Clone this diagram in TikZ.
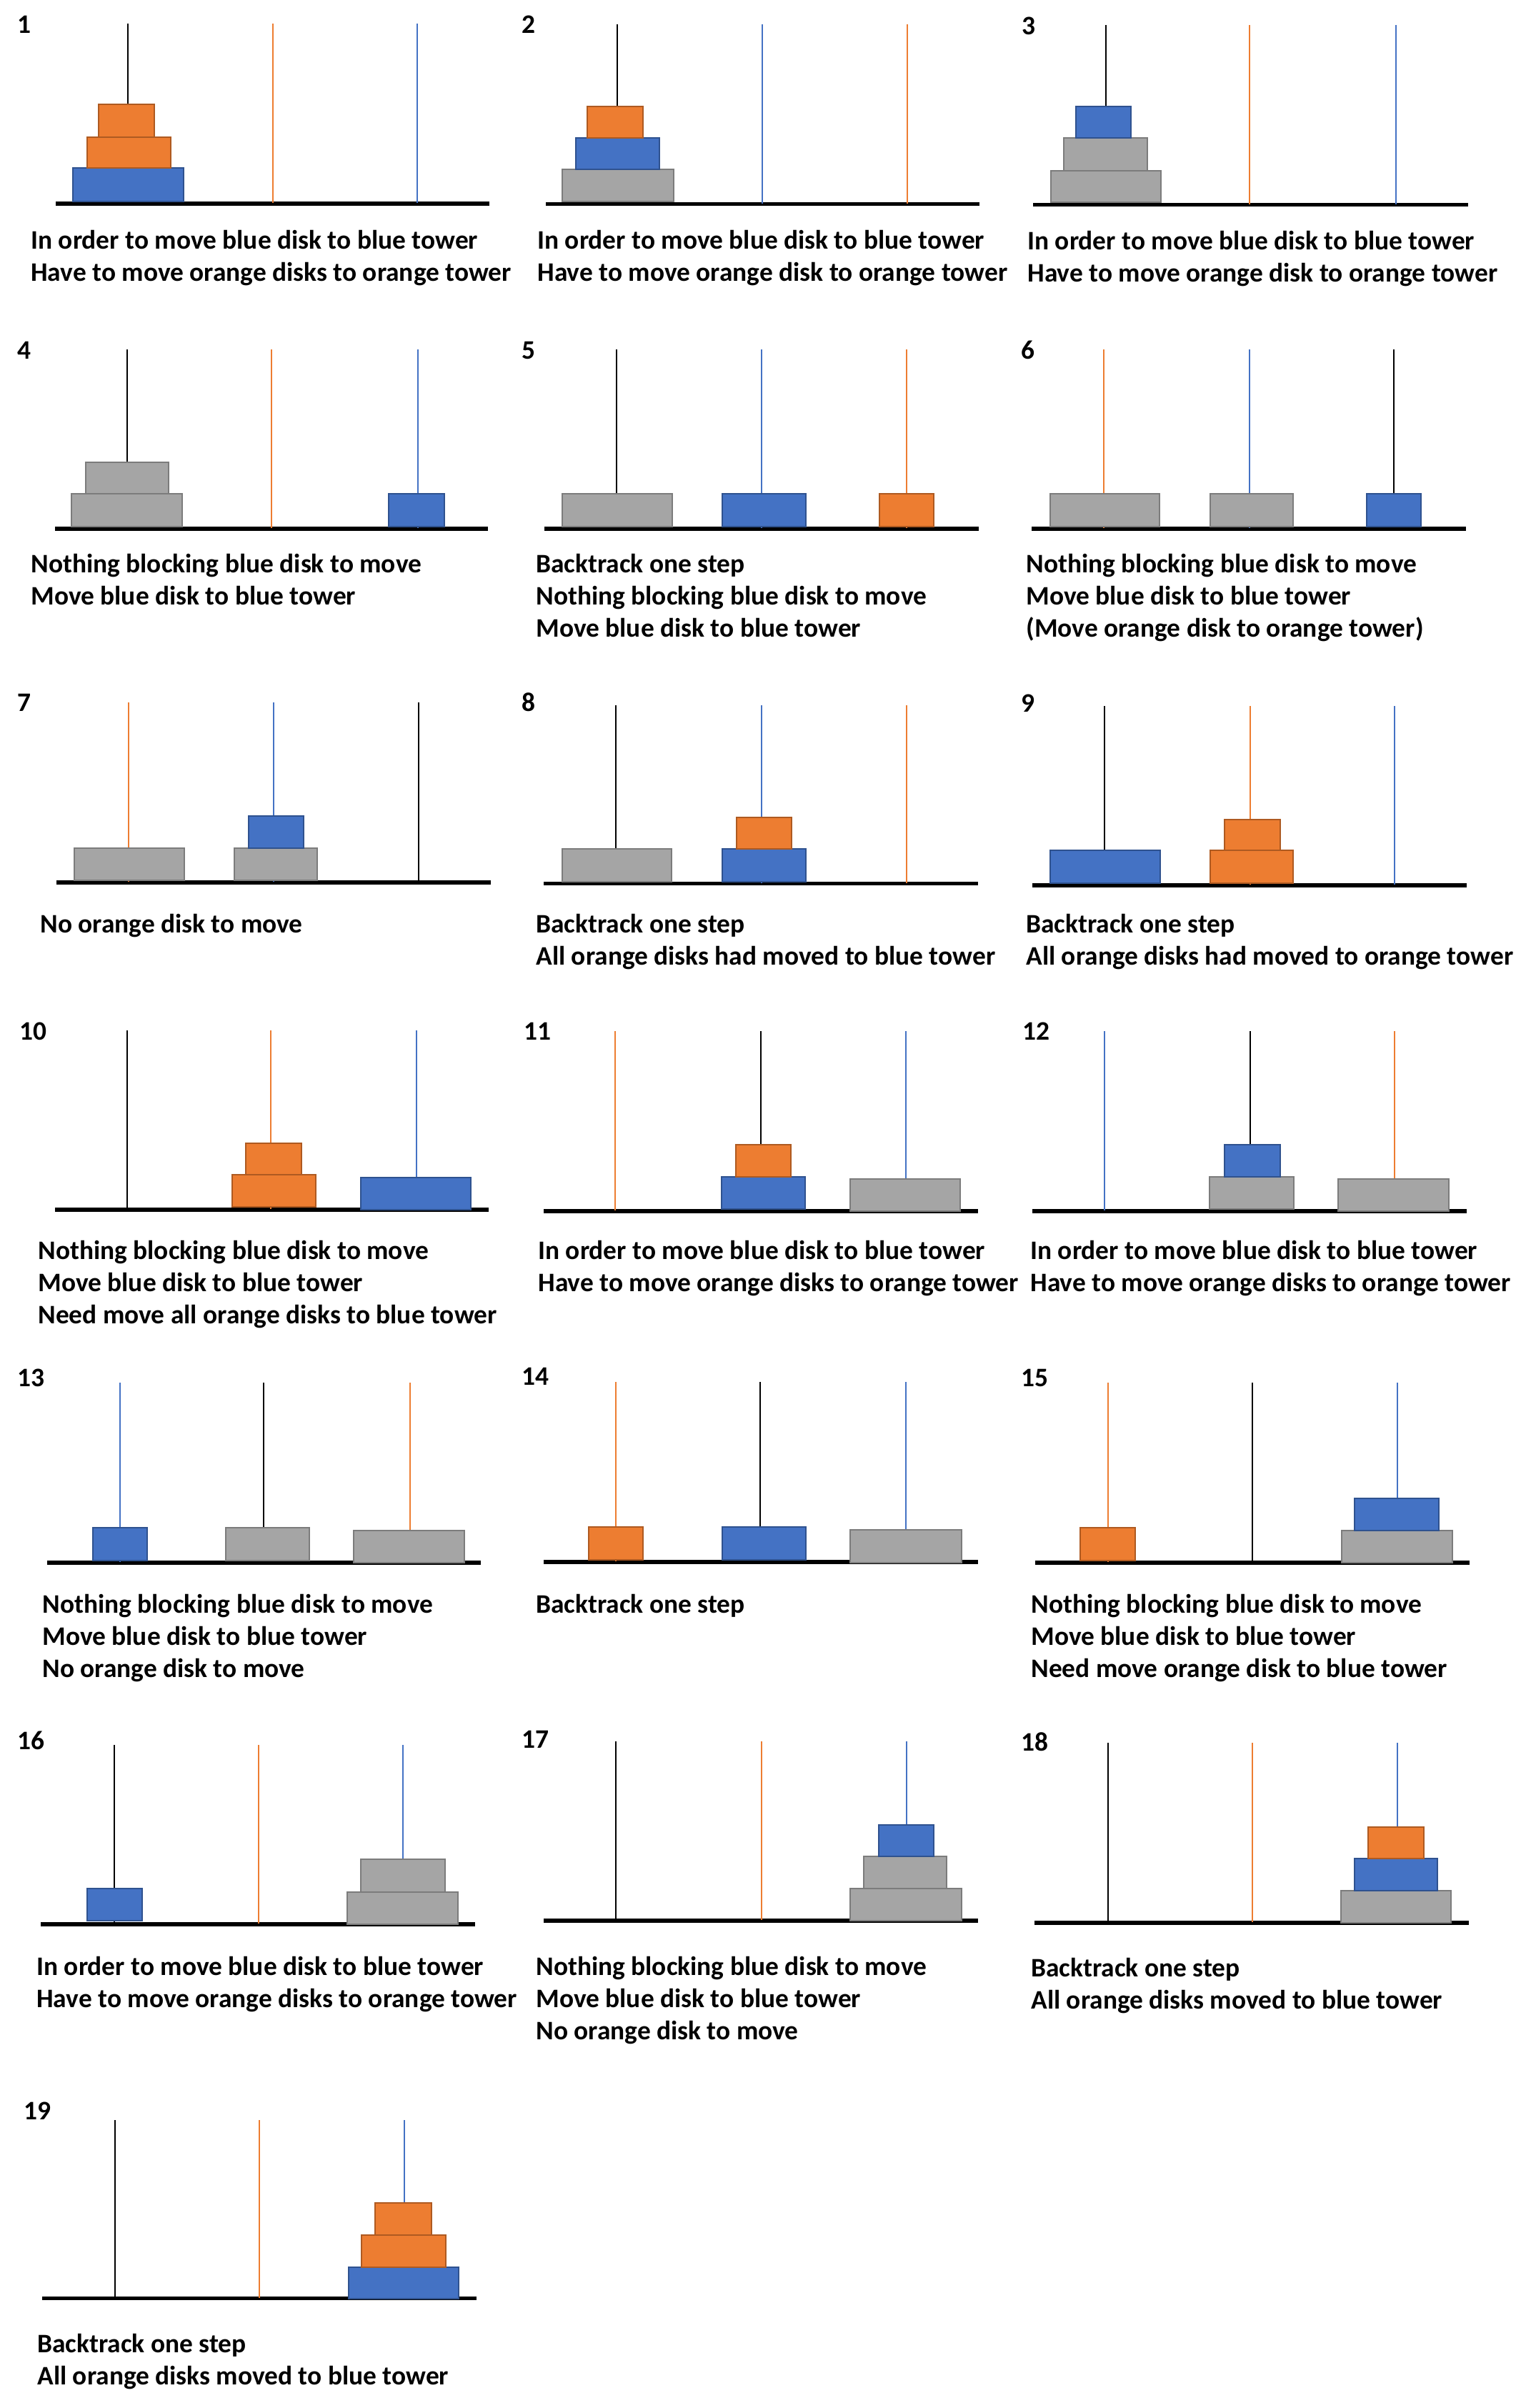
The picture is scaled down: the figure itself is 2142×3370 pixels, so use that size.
\documentclass[tikz,border=0pt]{standalone}
\usepackage{fontspec}
\newfontfamily\calibri{Carlito}
\definecolor{bluef}{HTML}{4472C4}
\definecolor{blued}{HTML}{2F528F}
\definecolor{orangef}{HTML}{ED7D31}
\definecolor{oranged}{HTML}{AE5A21}
\definecolor{grayf}{HTML}{A5A5A5}
\definecolor{grayd}{HTML}{7C7C7C}
\newcommand\Peg[4]{\draw[#1] (#2,#3) -- (#2,#4);}
\newcommand\Cap[4]{\node[captxt] (#1) at (#2,#3) {\begin{tabular}[t]{@{}l@{}}#4\end{tabular}};}
\tikzset{
  pegk/.style={draw=black, line width=1.2pt},
  pego/.style={draw=orangef, line width=1.1pt},
  pegb/.style={draw=bluef, line width=1.1pt},
  baseline bar/.style={fill=black},
  bdisk/.style={fill=bluef, draw=blued, line width=1pt},
  odisk/.style={fill=orangef, draw=oranged, line width=1pt},
  gdisk/.style={fill=grayf, draw=grayd, line width=1pt},
  lab/.style={anchor=base west, inner sep=0pt, font=\calibri\bfseries\fontsize{18.7}{22.5}\selectfont},
  captxt/.style={anchor=base west, inner sep=0pt, font=\calibri\bfseries\fontsize{18.7}{22.5}\selectfont}
}
\begin{document}
\begin{tikzpicture}[x=0.5pt,y=-0.5pt]
\fill[white] (0,0) rectangle (2142,3370);
\useasboundingbox (0,0) rectangle (2142,3370);
% ---------- Panel 1
\fill[baseline bar] (78,282) rectangle (685,288);
\Peg{pegk}{179}{33}{284}\Peg{pego}{382}{33}{284}\Peg{pegb}{584}{33}{284}
\draw[bdisk] (102,235) rectangle (257,282);
\draw[odisk] (122,192) rectangle (239,235);
\draw[odisk] (138,146) rectangle (216,192);
\node[lab] (l1) at (24,47) {1};
\Cap{c1}{43}{349}{In order to move blue disk to blue tower\\Have to move orange disks to orange tower}
% ---------- Panel 2
\fill[baseline bar] (764,283) rectangle (1371,288);
\Peg{pegk}{864}{34}{285}\Peg{pegb}{1067}{34}{285}\Peg{pego}{1270}{34}{285}
\draw[gdisk] (787,237) rectangle (943,282);
\draw[bdisk] (806,193) rectangle (923,237);
\draw[odisk] (822,149) rectangle (900,193);
\node[lab] (l2) at (730,47) {2};
\Cap{c2}{752}{349}{In order to move blue disk to blue tower\\Have to move orange disk to orange tower}
% ---------- Panel 3
\fill[baseline bar] (1446,284) rectangle (2055,289);
\Peg{pegk}{1548}{35}{286}\Peg{pego}{1749}{35}{286}\Peg{pegb}{1954}{35}{286}
\draw[gdisk] (1471,239) rectangle (1625,283);
\draw[gdisk] (1489,193) rectangle (1606,239);
\draw[bdisk] (1506,149) rectangle (1583,193);
\node[lab] (l3) at (1430,49) {3};
\Cap{c3}{1438}{350}{In order to move blue disk to blue tower\\Have to move orange disk to orange tower}
% ---------- Panel 4
\fill[baseline bar] (77,737) rectangle (683,743);
\Peg{pegk}{178}{489}{739}\Peg{pego}{380}{489}{739}\Peg{pegb}{585}{489}{739}
\draw[gdisk] (100,691) rectangle (255,737);
\draw[gdisk] (120,647) rectangle (236,691);
\draw[bdisk] (544,691) rectangle (622,737);
\node[lab] (l4) at (24,503) {4};
\Cap{c4}{43}{801}{Nothing blocking blue disk to move\\Move blue disk to blue tower}
% ---------- Panel 5
\fill[baseline bar] (762,737) rectangle (1370,743);
\Peg{pegk}{863}{489}{739}\Peg{pegb}{1066}{489}{739}\Peg{pego}{1269}{489}{739}
\draw[gdisk] (787,691) rectangle (941,737);
\draw[bdisk] (1011,691) rectangle (1128,737);
\draw[odisk] (1231,691) rectangle (1307,737);
\node[lab] (l5) at (730,503) {5};
\Cap{c5}{750}{801}{Backtrack one step\\Nothing blocking blue disk to move\\Move blue disk to blue tower}
% ---------- Panel 6
\fill[baseline bar] (1444,737) rectangle (2052,743);
\Peg{pego}{1545}{489}{739}\Peg{pegb}{1749}{489}{739}\Peg{pegk}{1951}{489}{739}
\draw[gdisk] (1470,691) rectangle (1623,737);
\draw[gdisk] (1694,691) rectangle (1810,737);
\draw[bdisk] (1913,691) rectangle (1989,737);
\node[lab] (l6) at (1429,503) {6};
\Cap{c6}{1436}{801}{Nothing blocking blue disk to move\\Move blue disk to blue tower\\(Move orange disk to orange tower)}
% ---------- Panel 7
\fill[baseline bar] (79,1232) rectangle (687,1238);
\Peg{pego}{180}{983}{1234}\Peg{pegb}{383}{983}{1234}\Peg{pegk}{586}{983}{1234}
\draw[gdisk] (104,1187) rectangle (258,1232);
\draw[gdisk] (328,1187) rectangle (444,1232);
\draw[bdisk] (348,1142) rectangle (425,1187);
\node[lab] (l7) at (24,995) {7};
\Cap{c7}{56}{1305}{No orange disk to move}
% ---------- Panel 8
\fill[baseline bar] (761,1234) rectangle (1369,1239);
\Peg{pegk}{862}{987}{1236}\Peg{pegb}{1066}{987}{1236}\Peg{pego}{1269}{987}{1236}
\draw[gdisk] (787,1188) rectangle (940,1234);
\draw[bdisk] (1011,1188) rectangle (1128,1234);
\draw[odisk] (1031,1144) rectangle (1108,1188);
\node[lab] (l8) at (730,995) {8};
\Cap{c8}{750}{1305}{Backtrack one step\\All orange disks had moved to blue tower}
% ---------- Panel 9
\fill[baseline bar] (1445,1236) rectangle (2053,1242);
\Peg{pegk}{1546}{988}{1238}\Peg{pego}{1750}{988}{1238}\Peg{pegb}{1952}{988}{1238}
\draw[bdisk] (1470,1190) rectangle (1624,1236);
\draw[odisk] (1694,1190) rectangle (1810,1236);
\draw[odisk] (1714,1147) rectangle (1792,1190);
\node[lab] (l9) at (1429,996) {9};
\Cap{c9}{1436}{1305}{Backtrack one step\\All orange disks had moved to orange tower}
% ---------- Panel 10
\fill[baseline bar] (77,1690) rectangle (684,1696);
\Peg{pegk}{178}{1442}{1692}\Peg{pego}{379}{1442}{1692}\Peg{pegb}{583}{1442}{1692}
\draw[odisk] (325,1644) rectangle (442,1689);
\draw[odisk] (344,1600) rectangle (422,1644);
\draw[bdisk] (505,1648) rectangle (659,1693);
\node[lab] (l10) at (27,1455) {10};
\Cap{c10}{53}{1762}{Nothing blocking blue disk to move\\Move blue disk to blue tower\\Need move all orange disks to blue tower}
% ---------- Panel 11
\fill[baseline bar] (761,1692) rectangle (1369,1698);
\Peg{pego}{861}{1443}{1694}\Peg{pegk}{1065}{1443}{1694}\Peg{pegb}{1268}{1443}{1694}
\draw[bdisk] (1010,1647) rectangle (1127,1692);
\draw[odisk] (1030,1602) rectangle (1107,1647);
\draw[gdisk] (1190,1650) rectangle (1344,1695);
\node[lab] (l11) at (733,1455) {11};
\Cap{c11}{753}{1762}{In order to move blue disk to blue tower\\Have to move orange disks to orange tower}
% ---------- Panel 12
\fill[baseline bar] (1445,1692) rectangle (2053,1698);
\Peg{pegb}{1546}{1443}{1694}\Peg{pegk}{1750}{1443}{1694}\Peg{pego}{1952}{1443}{1694}
\draw[gdisk] (1693,1647) rectangle (1811,1692);
\draw[bdisk] (1714,1602) rectangle (1792,1647);
\draw[gdisk] (1873,1650) rectangle (2028,1695);
\node[lab] (l12) at (1431,1455) {12};
\Cap{c12}{1442}{1762}{In order to move blue disk to blue tower\\Have to move orange disks to orange tower}
% ---------- Panel 13
\fill[baseline bar] (66,2184) rectangle (673,2190);
\Peg{pegb}{168}{1935}{2186}\Peg{pegk}{369}{1935}{2186}\Peg{pego}{574}{1935}{2186}
\draw[bdisk] (130,2138) rectangle (206,2184);
\draw[gdisk] (316,2138) rectangle (433,2184);
\draw[gdisk] (495,2142) rectangle (650,2187);
\node[lab] (l13) at (24,1940) {13};
\Cap{c13}{59}{2257}{Nothing blocking blue disk to move\\Move blue disk to blue tower\\No orange disk to move}
% ---------- Panel 14
\fill[baseline bar] (761,2183) rectangle (1369,2189);
\Peg{pego}{862}{1934}{2185}\Peg{pegk}{1064}{1934}{2185}\Peg{pegb}{1268}{1934}{2185}
\draw[odisk] (824,2137) rectangle (900,2183);
\draw[bdisk] (1011,2137) rectangle (1128,2183);
\draw[gdisk] (1190,2141) rectangle (1346,2187);
\node[lab] (l14) at (730,1938) {14};
\Cap{c14}{750}{2257}{Backtrack one step}
% ---------- Panel 15
\fill[baseline bar] (1449,2184) rectangle (2057,2190);
\Peg{pego}{1551}{1935}{2186}\Peg{pegk}{1753}{1935}{2186}\Peg{pegb}{1956}{1935}{2186}
\draw[odisk] (1512,2138) rectangle (1589,2184);
\draw[gdisk] (1878,2142) rectangle (2033,2187);
\draw[bdisk] (1896,2097) rectangle (2014,2142);
\node[lab] (l15) at (1429,1940) {15};
\Cap{c15}{1443}{2257}{Nothing blocking blue disk to move\\Move blue disk to blue tower\\Need move orange disk to blue tower}
% ---------- Panel 16
\fill[baseline bar] (57,2690) rectangle (665,2696);
\Peg{pegk}{160}{2442}{2692}\Peg{pego}{362}{2442}{2692}\Peg{pegb}{564}{2442}{2692}
\draw[bdisk] (122,2643) rectangle (199,2688);
\draw[gdisk] (486,2648) rectangle (641,2693);
\draw[gdisk] (505,2602) rectangle (623,2648);
\node[lab] (l16) at (24,2448) {16};
\Cap{c16}{51}{2764}{In order to move blue disk to blue tower\\Have to move orange disks to orange tower}
% ---------- Panel 17
\fill[baseline bar] (761,2685) rectangle (1369,2691);
\Peg{pegk}{862}{2437}{2687}\Peg{pego}{1066}{2437}{2687}\Peg{pegb}{1269}{2437}{2687}
\draw[gdisk] (1190,2643) rectangle (1346,2688);
\draw[gdisk] (1209,2598) rectangle (1325,2643);
\draw[bdisk] (1230,2554) rectangle (1307,2598);
\node[lab] (l17) at (730,2446) {17};
\Cap{c17}{750}{2764}{Nothing blocking blue disk to move\\Move blue disk to blue tower\\No orange disk to move}
% ---------- Panel 18
\fill[baseline bar] (1448,2688) rectangle (2056,2694);
\Peg{pegk}{1551}{2439}{2690}\Peg{pego}{1753}{2439}{2690}\Peg{pegb}{1956}{2439}{2690}
\draw[gdisk] (1877,2646) rectangle (2031,2691);
\draw[bdisk] (1896,2601) rectangle (2012,2646);
\draw[odisk] (1915,2557) rectangle (1993,2601);
\node[lab] (l18) at (1429,2450) {18};
\Cap{c18}{1443}{2766}{Backtrack one step\\All orange disks moved to blue tower}
% ---------- Panel 19
\fill[baseline bar] (59,3214) rectangle (667,3219);
\Peg{pegk}{161}{2967}{3216}\Peg{pego}{363}{2967}{3216}\Peg{pegb}{566}{2967}{3216}
\draw[bdisk] (488,3173) rectangle (642,3217);
\draw[odisk] (506,3128) rectangle (624,3173);
\draw[odisk] (525,3083) rectangle (604,3128);
\node[lab] (l19) at (33,2966) {19};
\Cap{c19}{52}{3292}{Backtrack one step\\All orange disks moved to blue tower}
\end{tikzpicture}
\end{document}
